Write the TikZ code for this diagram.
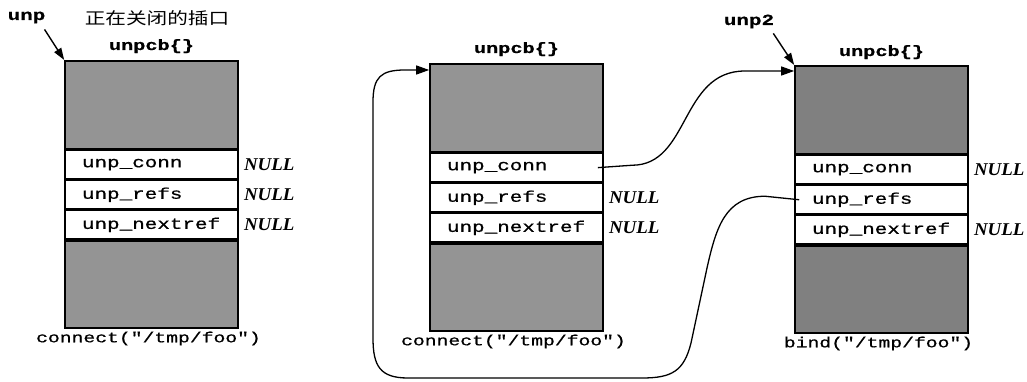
\documentclass[tikz,border=0pt]{standalone}
\usepackage{fontspec}
\setmainfont{Liberation Serif}
\newfontfamily\codefont[FakeStretch=1.35,FakeBold=0.7]{Liberation Mono}
\newfontfamily\nilfont[FakeStretch=1.05]{Liberation Serif}
\newfontfamily\cjk[FakeStretch=1.25]{Noto Sans CJK SC}
\usetikzlibrary{arrows.meta}
\begin{document}
\begin{tikzpicture}[x=1pt,y=-1pt,
  part/.style={draw=black, line width=1.6pt, minimum width=173pt, inner sep=0pt, anchor=north},
  graytop/.style={part, fill=black!42, minimum height=88pt},
  graylow/.style={part, fill=black!42, minimum height=87pt},
  field/.style={draw=black, line width=1.6pt, fill=white, anchor=north, text width=139pt,
    inner xsep=17pt, inner ysep=0pt, minimum height=28.5pt, align=left,
    font=\codefont\fontsize{15.5}{17}\selectfont},
  nul/.style={anchor=west, inner sep=0pt, xshift=5pt,
    font=\nilfont\fontsize{18}{20}\selectfont\bfseries\itshape},
  title/.style={anchor=base, inner sep=0pt, font=\codefont\fontsize{15}{16}\selectfont\bfseries},
  call/.style={anchor=north, inner sep=0pt, xshift=-3pt, font=\codefont\fontsize{14.6}{16}\selectfont},
  varname/.style={anchor=base, inner sep=0pt, font=\codefont\fontsize{15.5}{17}\selectfont\bfseries},
  ptr/.style={line width=1.4pt, -{Triangle[length=12pt,width=8pt]}},
  link/.style={line width=1.3pt, -{Triangle[length=13pt,width=9pt]}},
]
\useasboundingbox (0,0) rectangle (1027,382);

% ---------- box 1 ----------
\node[graytop] (t1) at (151.5,60) {};
\node[field] (c1) at (t1.south) {unp\_conn};
\node[field] (r1) at (c1.south) {unp\_refs};
\node[field] (n1) at (r1.south) {unp\_nextref};
\node[graylow] (b1) at (n1.south) {};
\node[nul] (c1n) at (c1.east) {NULL};
\node[nul] (r1n) at (r1.east) {NULL};
\node[nul] (n1n) at (n1.east) {NULL};
\node[title] (h1) at (151.5,50) {unpcb\{\}};
\node[call] (l1) at ([yshift=-3pt]b1.south) {connect("/tmp/foo")};
\node[anchor=base, inner sep=0pt, font=\cjk\fontsize{16.5}{18}\selectfont] (cn) at (157,25) {正在关闭的插口};
\node[varname] (unp) at (26.5,20) {unp};
\draw[ptr] ([xshift=-1pt,yshift=-6pt]unp.south east) -- (t1.north west);

% ---------- box 2 ----------
\node[graytop] (t2) at (516.5,63) {};
\node[field] (c2) at (t2.south) {unp\_conn};
\node[field] (r2) at (c2.south) {unp\_refs};
\node[field] (n2) at (r2.south) {unp\_nextref};
\node[graylow] (b2) at (n2.south) {};
\node[nul] (r2n) at (r2.east) {NULL};
\node[nul] (n2n) at (n2.east) {NULL};
\node[title] (h2) at (516.5,53) {unpcb\{\}};
\node[call] (l2) at ([yshift=-3pt]b2.south) {connect("/tmp/foo")};

% ---------- box 3 ----------
\node[graytop, fill=black!50] (t3) at (881.5,65) {};
\node[field] (c3) at (t3.south) {unp\_conn};
\node[field] (r3) at (c3.south) {unp\_refs};
\node[field] (n3) at (r3.south) {unp\_nextref};
\node[graylow, fill=black!50] (b3) at (n3.south) {};
\node[nul] (c3n) at (c3.east) {NULL};
\node[nul] (n3n) at (n3.east) {NULL};
\node[title] (h3) at (881.5,56) {unpcb\{\}};
\node[call] (l3) at ([yshift=-3pt]b3.south) {bind("/tmp/foo")};
\node[varname] (unp2) at (749,25) {unp2};
\draw[ptr] ([xshift=-1pt,yshift=-5pt]unp2.south east) -- (t3.north west);

% ---------- connectors ----------
\draw[link] ([xshift=-6pt]c2.east) -- (632,165.25)
  .. controls (690,165.25) and (680,71) .. (745,71)
  -- ([yshift=-6pt]t3.north west);
\draw[link] ([xshift=5pt]r3.west) -- (765,196.25)
  .. controls (725,196.25) and (716,228) .. (707,268)
  -- (691,343)
  .. controls (684,371) and (672,378) .. (642,378)
  -- (408,378)
  .. controls (380,378) and (373,366) .. (373,338)
  -- (373,102)
  .. controls (373,77) and (381,70) .. (405,70)
  -- ([yshift=-7pt]t2.north west);
\end{tikzpicture}
\end{document}
